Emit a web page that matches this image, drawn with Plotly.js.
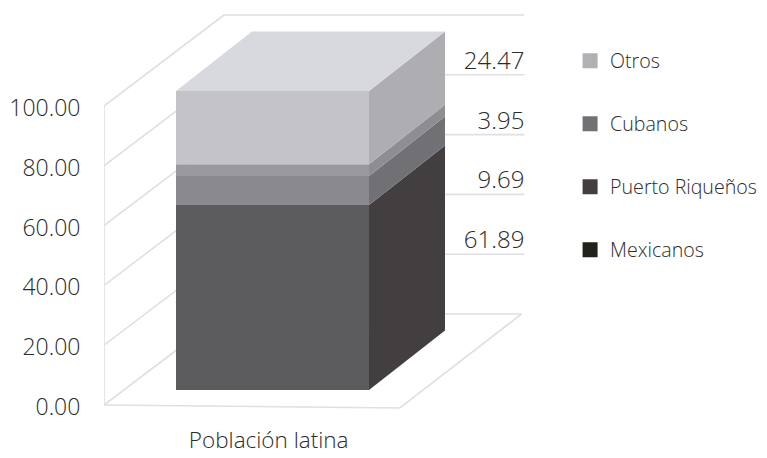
<!DOCTYPE html>
<html><head><meta charset="utf-8">
<script src="https://cdn.plot.ly/plotly-3.0.0.min.js"></script>
<style>html,body{margin:0;padding:0;background:#fff}</style></head>
<body><div id="chart" style="width:767px;height:458px"></div>
<script>
const category = "Población latina";
const seriesNames = ["Mexicanos", "Puerto Riqueños", "Cubanos", "Otros"];
const seriesValues = [61.89, 9.69, 3.95, 24.47];
const frontColors = ["#5c5c5e", "#8a898d", "#9a999e", "#c4c3c8"];
const sideColors = ["#433f40", "#717074", "#8e8d91", "#aeadb2"];
const legendColors = ["#22211a", "#433f40", "#717074", "#b1b0b5"];
const topColor = "#d8d9de";
const yTicks = [0, 20, 40, 60, 80, 100];

const PX_X = 193, PX_Y = 2.99;
const wallDx = 120 / PX_X, wallDy = 91 / PX_Y;
const barDx = 76 / PX_X, barDy = 59.5 / PX_Y;
const barLift = 15 / PX_Y, halfW = 0.5;
const wallX = -0.873;
const lineCol = "#dfdfe4";

const shapes = [];
const line = (x0, y0, x1, y1) => shapes.push({type:"line", layer:"below", xref:"x", yref:"y", x0, y0, x1, y1, line:{color:lineCol, width:1.6}});
const gridEnd = 1.305;
yTicks.forEach(v => {
  line(wallX, v, wallX + wallDx, v + wallDy);
  if (v > 0) line(wallX + wallDx, v + wallDy, gridEnd, v + wallDy);
});
line(wallX, 0, wallX, 100);
line(wallX, 0, 0.66, -1);
line(0.66, -1, 1.29, wallDy);
line(wallX + wallDx, wallDy, 1.29, wallDy);

const traces = [];
let cum = barLift;
seriesValues.forEach((v, i) => {
  traces.push({type:"bar", x:[0], y:[v], base:[cum], width:[2*halfW], marker:{color:frontColors[i], line:{width:0}}, showlegend:false, hoverinfo:"skip"});
  traces.push({type:"scatter", mode:"lines", fill:"toself", fillcolor:sideColors[i], line:{width:0},
    x:[halfW, halfW+barDx, halfW+barDx, halfW, halfW], y:[cum, cum+barDy, cum+v+barDy, cum+v, cum], showlegend:false, hoverinfo:"skip"});
  cum += v;
});
traces.push({type:"scatter", mode:"lines", fill:"toself", fillcolor:topColor, line:{width:0},
  x:[-halfW, halfW, halfW+barDx, -halfW+barDx, -halfW], y:[cum, cum, cum+barDy, cum+barDy, cum], showlegend:false, hoverinfo:"skip"});

// value labels sit on the back-wall gridlines, top series first
traces.push({type:"scatter", mode:"text", x:[1,1,1,1].map(()=>gridEnd), y:[80,60,40,20].map(v=>v+wallDy),
  text:seriesValues.slice().reverse().map(v=>v.toFixed(2)), textposition:"top left", cliponaxis:false,
  textfont:{size:24, color:"#2b2b2b", family:"Open Sans", weight:300}, showlegend:false, hoverinfo:"skip"});

// legend entries, listed top-down
for (let i = seriesNames.length - 1; i >= 0; i--) {
  traces.push({type:"scatter", mode:"markers", x:[null], y:[null], name:seriesNames[i], legendgroup:seriesNames[i],
    marker:{symbol:"square", size:15, color:legendColors[i]}});
}

const layout = {
  width:767, height:458, margin:{l:104, r:0, t:0, b:43, pad:0, autoexpand:false},
  paper_bgcolor:"#fff", plot_bgcolor:"#fff", barmode:"overlay",
  font:{family:"Open Sans", color:"#2b2b2b", weight:300},
  xaxis:{range:[wallX, 2.562], tickmode:"array", tickvals:[-0.02], ticktext:[category], showgrid:false, zeroline:false, showline:false,
    ticks:"outside", ticklen:5, tickcolor:"rgba(0,0,0,0)", tickfont:{size:22.5, family:"Open Sans", weight:300}},
  yaxis:{range:[-10/PX_Y, 405/PX_Y], tickmode:"array", tickvals:yTicks, tickformat:".2f", showgrid:false, zeroline:false, showline:false,
    ticks:"outside", ticklen:18, tickcolor:"rgba(0,0,0,0)", ticklabelshift:2, tickfont:{size:23, family:"Open Sans", weight:300}},
  legend:{x:0.703, y:0.9, xanchor:"left", yanchor:"top", tracegroupgap:34.5, font:{size:19.6, family:"Open Sans", weight:300}, bgcolor:"rgba(0,0,0,0)", itemwidth:30},
  shapes
};
Plotly.newPlot("chart", traces, layout, {displayModeBar:false, staticPlot:true});
</script></body></html>
